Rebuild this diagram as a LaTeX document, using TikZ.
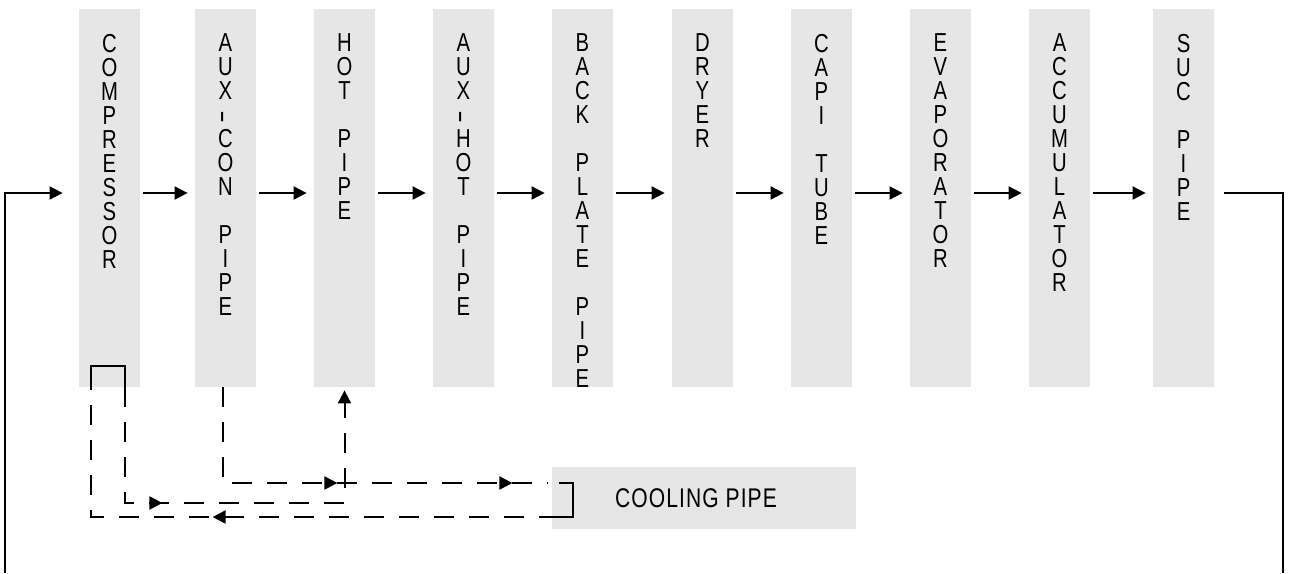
\documentclass[tikz,border=0pt]{standalone}
\usepackage{xcolor}
\usepackage{fontspec}
\usepackage{tikz}
\usetikzlibrary{arrows.meta}
\usetikzlibrary{positioning}
\usetikzlibrary{decorations.markings}
\newfontfamily\narrowfont{Liberation Sans}[FakeStretch=0.78]
\definecolor{boxgray}{RGB}{230,230,230}
\newcommand{\vhyph}{\rotatebox{90}{\scalebox{1.9}[1]{-}}}
\tikzset{>={Triangle[length=6.5pt, width=6.5pt]}}
\tikzstyle{box} = [rectangle, fill=boxgray, draw=none, minimum width=30.5pt, minimum height=189pt, inner sep=0pt]
\tikzstyle{word} = [align=center, inner sep=0pt, font=\narrowfont\fontsize{13pt}{12pt}\selectfont]
\tikzstyle{flow} = [->, line width=1pt]
\tikzstyle{wire} = [line width=1pt]
\tikzstyle{pipe} = [line width=1pt, dash pattern=on 10pt off 7.5pt]

\begin{document}
\begin{tikzpicture}[x=0.5pt, y=-0.5pt]
\useasboundingbox (0, 0) rectangle (1290, 573);
\node [box] (CMP) at (109.5, 198) {};
\node [box] (ACP) at (225.5, 198) {};
\node [box] (HP) at (344.5, 198) {};
\node [box] (AHP) at (463.5, 198) {};
\node [box] (BPP) at (582.5, 198) {};
\node [box] (DR) at (702.5, 198) {};
\node [box] (CT) at (821.5, 198) {};
\node [box] (EV) at (940.5, 198) {};
\node [box] (AC) at (1059.5, 198) {};
\node [box] (SP) at (1183.5, 198) {};
\node [box, minimum width=152pt, minimum height=31pt] (CP) at (704, 498) {};
% vertical labels
\node [word, below=12.5pt of CMP.north] (CMPt) {C\\O\\M\\P\\R\\E\\S\\S\\O\\R};
\node [word, below=12.5pt of ACP.north] (ACPt) {A\\U\\X\\\vhyph\\C\\O\\N\\~\\P\\I\\P\\E};
\node [word, below=12.5pt of HP.north] (HPt) {H\\O\\T\\~\\P\\I\\P\\E};
\node [word, below=12.5pt of AHP.north] (AHPt) {A\\U\\X\\\vhyph\\H\\O\\T\\~\\P\\I\\P\\E};
\node [word, below=12.5pt of BPP.north] (BPPt) {B\\A\\C\\K\\~\\P\\L\\A\\T\\E\\~\\P\\I\\P\\E};
\node [word, below=12.5pt of DR.north] (DRt) {D\\R\\Y\\E\\R};
\node [word, below=12.5pt of CT.north] (CTt) {C\\A\\P\\I\\~\\T\\U\\B\\E};
\node [word, below=12.5pt of EV.north] (EVt) {E\\V\\A\\P\\O\\R\\A\\T\\O\\R};
\node [word, below=12.5pt of AC.north] (ACt) {A\\C\\C\\U\\M\\U\\L\\A\\T\\O\\R};
\node [word, below=12.5pt of SP.north] (SPt) {S\\U\\C\\~\\P\\I\\P\\E};
\node [word, font=\narrowfont\fontsize{13.5pt}{12pt}\selectfont\addfontfeature{LetterSpace=4}] (CPt) at (696, 498) {COOLING PIPE};

\coordinate (flowY) at (0, 193);
\coordinate (upY) at (0, 483);
\coordinate (midY) at (0, 503);
\coordinate (lowY) at (0, 517);
\coordinate (LL) at (5, 573);
\coordinate (LR) at (1283, 573);
\coordinate (cL) at ([xshift=-9.25pt]CMP.south);
\coordinate (cR) at ([xshift=7.75pt]CMP.south);
\coordinate (bT) at ([xshift=3.5pt]CP.west |- upY);
\coordinate (bB) at ([xshift=3.5pt]CP.west |- lowY);

% main circuit
\foreach \a/\b in {CMP/ACP, ACP/HP, HP/AHP, AHP/BPP, BPP/DR, DR/CT, CT/EV, EV/AC, AC/SP}
  \draw [flow] ([xshift=1.5pt]\a.east |- flowY) -- ([xshift=-3.5pt]\b.west |- flowY);
\draw [flow] (LL) |- ([xshift=-8pt]CMP.west |- flowY);
\draw [wire] ([xshift=5pt]SP.east |- flowY) -| (LR);

% cooling loop
\draw [wire] (cL) |- ([yshift=10.5pt]cR) -- (cR);
\draw [wire] (bT) -| ([xshift=7pt]bB) -- (bB);
\draw [pipe, postaction={decorate, decoration={markings, mark=at position 105pt with {\arrow{>}}, mark=at position 192.5pt with {\arrow{>}}}}] ([xshift=-1.25pt]ACP.south) |- ([xshift=-2pt]CP.west |- upY);
\draw [pipe, ->, postaction={decorate, decoration={markings, mark=at position 76.5pt with {\arrow{>}}}}] (cR) |- (HP.south |- midY) -- ([yshift=-1.5pt]HP.south);
\draw [pipe, postaction={decorate, decoration={markings, mark=at position 173pt with {\arrow{>}}}}] (bB) -- (cL |- lowY) -- (cL);
\end{tikzpicture}
\end{document}
